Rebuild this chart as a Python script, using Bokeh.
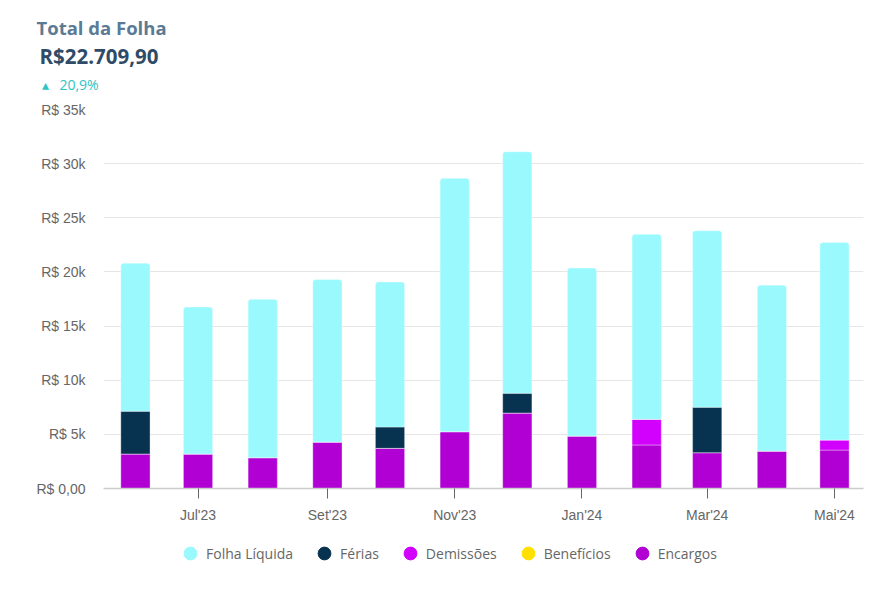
import numpy as np
import pandas as pd
from bokeh.plotting import figure
from bokeh.layouts import column
from bokeh.models import (ColumnDataSource, FixedTicker, Legend, LegendItem, Range1d, Title)
from bokeh.embed import file_html
from bokeh.resources import INLINE

# ---------------- data ----------------
months = ["2023-06", "2023-07", "2023-08", "2023-09", "2023-10", "2023-11",
          "2023-12", "2024-01", "2024-02", "2024-03", "2024-04", "2024-05"]
folha_liquida = [13670, 13570, 14620, 15010, 13390, 23390, 22310, 15510, 17080, 16300, 15320, 18230]
ferias = [3940, 0, 0, 0, 1970, 0, 1820, 0, 0, 4190, 0, 0]
demissoes = [0, 0, 0, 0, 0, 0, 0, 0, 2370, 0, 0, 930]
beneficios = [0, 0, 0, 0, 0, 0, 0, 0, 0, 0, 0, 0]
encargos = [3190, 3190, 2850, 4290, 3710, 5250, 6970, 4850, 4020, 3310, 3460, 3550]

series_names = ["Folha Líquida", "Férias", "Demissões", "Benefícios", "Encargos"]
series_colors = ["#99F9FD", "#073350", "#D200FD", "#FFE000", "#B000D4"]

tick_months = ["2023-07", "2023-09", "2023-11", "2024-01", "2024-03", "2024-05"]
tick_labels = ["Jul'23", "Set'23", "Nov'23", "Jan'24", "Mar'24", "Mai'24"]
y_ticks = [0, 5000, 10000, 15000, 20000, 25000, 30000, 35000]
y_tick_labels = ["R$ 0,00", "R$ 5k", "R$ 10k", "R$ 15k", "R$ 20k", "R$ 25k", "R$ 30k", "R$ 35k"]

header_title = "Total da Folha"
header_value = "R$22.709,90"
header_change = "▴\u00a0\u00a0\u00a020,9%"

W = 881

# ---------------- main chart ----------------
d0 = pd.Timestamp(months[0] + "-01")
x = [int((pd.Timestamp(m + "-01") - d0).days) for m in months]
xt = [int((pd.Timestamp(m + "-01") - d0).days) for m in tick_months]

stack_bottom_to_top = [("Encargos", encargos), ("Benefícios", beneficios),
                       ("Demissões", demissoes), ("Férias", ferias),
                       ("Folha Líquida", folha_liquida)]
color_of = dict(zip(series_names, series_colors))

p = figure(frame_width=760, frame_height=379, output_backend="svg", toolbar_location=None,
           x_range=Range1d(-15.3, x[-1] + 13.9), y_range=Range1d(0, 35000),
           min_border_left=103, min_border_right=18, min_border_top=109,
           min_border_bottom=42, title=None)
p.outline_line_color = None
p.background_fill_color = "white"
p.border_fill_color = "white"

cum = np.zeros(len(months))
for name, vals in stack_bottom_to_top:
    v = np.array(vals, dtype=float)
    src = ColumnDataSource(dict(x=x, bottom=cum.copy(), top=cum + v))
    kw = {}
    if name == "Folha Líquida":
        kw["border_radius"] = (3, 3, 0, 0)
    if v.sum() > 0:
        p.vbar(x="x", bottom="bottom", top="top", width=14, source=src,
               fill_color=color_of[name], line_color="white", line_alpha=0.35,
               line_width=1, **kw)
    cum = cum + v

p.yaxis.ticker = FixedTicker(ticks=y_ticks)
p.yaxis.major_label_overrides = {t: l for t, l in zip(y_ticks, y_tick_labels)}
p.yaxis.axis_line_color = None
p.yaxis.major_tick_line_color = None
p.yaxis.minor_tick_line_color = None
p.yaxis.major_label_standoff = 12
p.yaxis.major_label_text_font = "Liberation Sans"
p.yaxis.major_label_text_font_size = "14px"
p.yaxis.major_label_text_color = "#666666"

p.xaxis.ticker = FixedTicker(ticks=xt)
p.xaxis.major_label_overrides = {t: l for t, l in zip(xt, tick_labels)}
p.xaxis.axis_line_color = "#cccccc"
p.xaxis.axis_line_width = 1.5
p.xaxis.major_tick_line_color = "#666666"
p.xaxis.major_tick_in = 0
p.xaxis.major_tick_out = 10
p.xaxis.minor_tick_line_color = None
p.xaxis.major_label_standoff = 8
p.xaxis.major_label_text_font = "Liberation Sans"
p.xaxis.major_label_text_font_size = "14px"
p.xaxis.major_label_text_color = "#666666"

p.xgrid.grid_line_color = None
p.ygrid.grid_line_color = "#e6e6e6"
p.ygrid.grid_line_width = 1


def make_title(text, size, style, color, offset, standoff, fallback):
    t = Title(text=text, text_font="Open Sans", text_font_size=size,
              text_font_style=style, text_color=color, align="left", offset=offset)
    try:
        t.standoff = standoff
    except Exception:
        t.standoff = fallback
    return t


# header titles (added from the plot outward)
p.add_layout(make_title(header_change, "14px", "normal", "#2EC4C4", -62, 31, 31), "above")
p.add_layout(make_title(header_value, "20.5px", "bold", "#2F4B67", -64, -24, 0), "above")
p.add_layout(make_title(header_title, "18.5px", "bold", "#5B7B95", -67, 23, 0), "above")

# ---------------- legend strip ----------------
lg = figure(width=W, height=52, output_backend="svg", toolbar_location=None,
            x_range=Range1d(0, 1), y_range=Range1d(0, 1),
            x_axis_type=None, y_axis_type=None, min_border=0)
lg.outline_line_color = None
lg.grid.visible = False
items = []
for name, col in zip(series_names, series_colors):
    r = lg.scatter(x=[np.nan], y=[np.nan], marker="circle", size=13,
                   fill_color=col, line_color=col)
    items.append(LegendItem(label=name, renderers=[r]))
legend = Legend(items=items, orientation="horizontal", location=(71, 13),
                label_text_font="Open Sans", label_text_font_size="14px",
                label_text_color="#666666", border_line_color=None,
                background_fill_alpha=0, glyph_width=32, glyph_height=32,
                label_standoff=0, spacing=15, margin=0, padding=0)
lg.add_layout(legend, "center")

layout = column(p, lg, spacing=0)
open("out.html", "w").write(file_html(layout, INLINE))
